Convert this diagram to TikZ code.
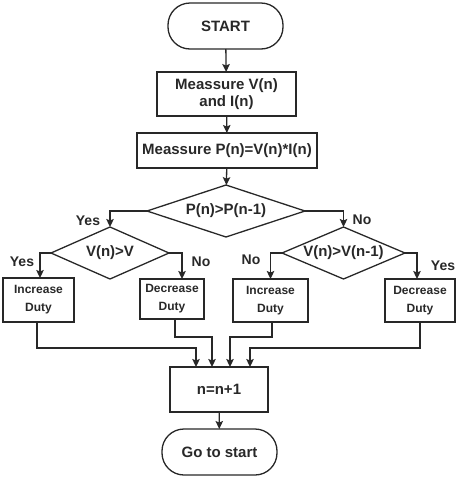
\documentclass[tikz,border=0pt]{standalone}
\usepackage{fontspec}
\setmainfont{Liberation Sans}
\usetikzlibrary{shapes.geometric,arrows.meta,calc}
\definecolor{ink}{RGB}{40,40,40}
\tikzset{
  base/.style={draw=ink, line width=1.3pt, text=ink, font=\fontsize{15}{17}\selectfont\bfseries, inner sep=0pt, outer sep=0pt, align=center},
  term/.style={base, rectangle, rounded corners=22pt},
  procbox/.style={base, rectangle},
  dutybox/.style={base, rectangle, font=\fontsize{12}{18}\selectfont\bfseries},
  decision/.style={base, diamond, shape aspect=3},
  lbl/.style={text=ink, font=\fontsize{14}{16}\selectfont\bfseries, inner sep=0pt},
  arr/.style={draw=ink, line width=1.3pt, -{Stealth[length=8pt,width=7.5pt,inset=1.5pt]}}
}
\begin{document}
\begin{tikzpicture}[x=1pt,y=-1pt]
\useasboundingbox (0,0) rectangle (458,480);
% nodes
\node[term, minimum width=115pt, minimum height=46pt] (start) at (225.5,26) {START};
\node[procbox, minimum width=139pt, minimum height=44pt] (m1) at (226.5,94) {Meassure V(n)\\and I(n)};
\node[procbox, minimum width=180pt, minimum height=35pt] (m2) at (227,150.5) {Meassure P(n)=V(n)*I(n)};
\node[decision, minimum width=158pt, minimum height=52pt] (d1) at (226,211) {P(n)>P(n-1)};
\node[decision, minimum width=118pt, minimum height=52pt] (dl) at (110,253) {V(n)>V};
\node[decision, minimum width=123pt, minimum height=52pt] (dr) at (343.5,253) {V(n)>V(n-1)};
\node[dutybox, minimum width=71pt, minimum height=44pt] (b1) at (38.5,300) {Increase\\Duty};
\node[dutybox, minimum width=64pt, minimum height=40pt] (b2) at (172,299) {Decrease\\Duty};
\node[dutybox, minimum width=75pt, minimum height=43pt] (b3) at (270.5,300.5) {Increase\\Duty};
\node[dutybox, minimum width=70pt, minimum height=43pt] (b4) at (420,300.5) {Decrease\\Duty};
\node[procbox, minimum width=98pt, minimum height=45pt] (n1) at (219,389.5) {n=n+1};
\node[term, minimum width=115pt, minimum height=46pt] (gs) at (219.5,452) {Go to start};
% labels
\node[lbl] (l1) at (88,221) {Yes};
\node[lbl] (l2) at (362,220) {No};
\node[lbl] (l3) at (22,262) {Yes};
\node[lbl] (l4) at (201,262) {No};
\node[lbl] (l5) at (251,260) {No};
\node[lbl] (l6) at (443,266) {Yes};
% connectors
\draw[arr] (start) -- (m1);
\draw[arr] (m1) -- (m2);
\draw[arr] (m2) -- (d1);
\draw[arr] (d1.west) -| (dl.north);
\draw[arr] (d1.east) -| (dr.north);
\draw[arr] (dl.west) -| ([xshift=1.5pt]b1.north);
\draw[arr] (dl.east) -| ([xshift=10pt]b2.north);
\draw[arr] (dr.west) -| (b3.north);
\draw[arr] (dr.east) -| ([xshift=-3pt]b4.north);
\draw[arr] ([xshift=-1.5pt]b1.south) -- ++(0,26) -| ([xshift=-23pt]n1.north);
\draw[arr] ([xshift=3pt]b2.south) -- ++(0,18) -| ([xshift=-7pt]n1.north);
\draw[arr] ([xshift=1.5pt]b3.south) -- ++(0,15) -| ([xshift=11pt]n1.north);
\draw[arr] (b4.south) -- ++(0,26) -| ([xshift=31pt]n1.north);
\draw[arr] (n1) -- (gs);
\end{tikzpicture}
\end{document}
